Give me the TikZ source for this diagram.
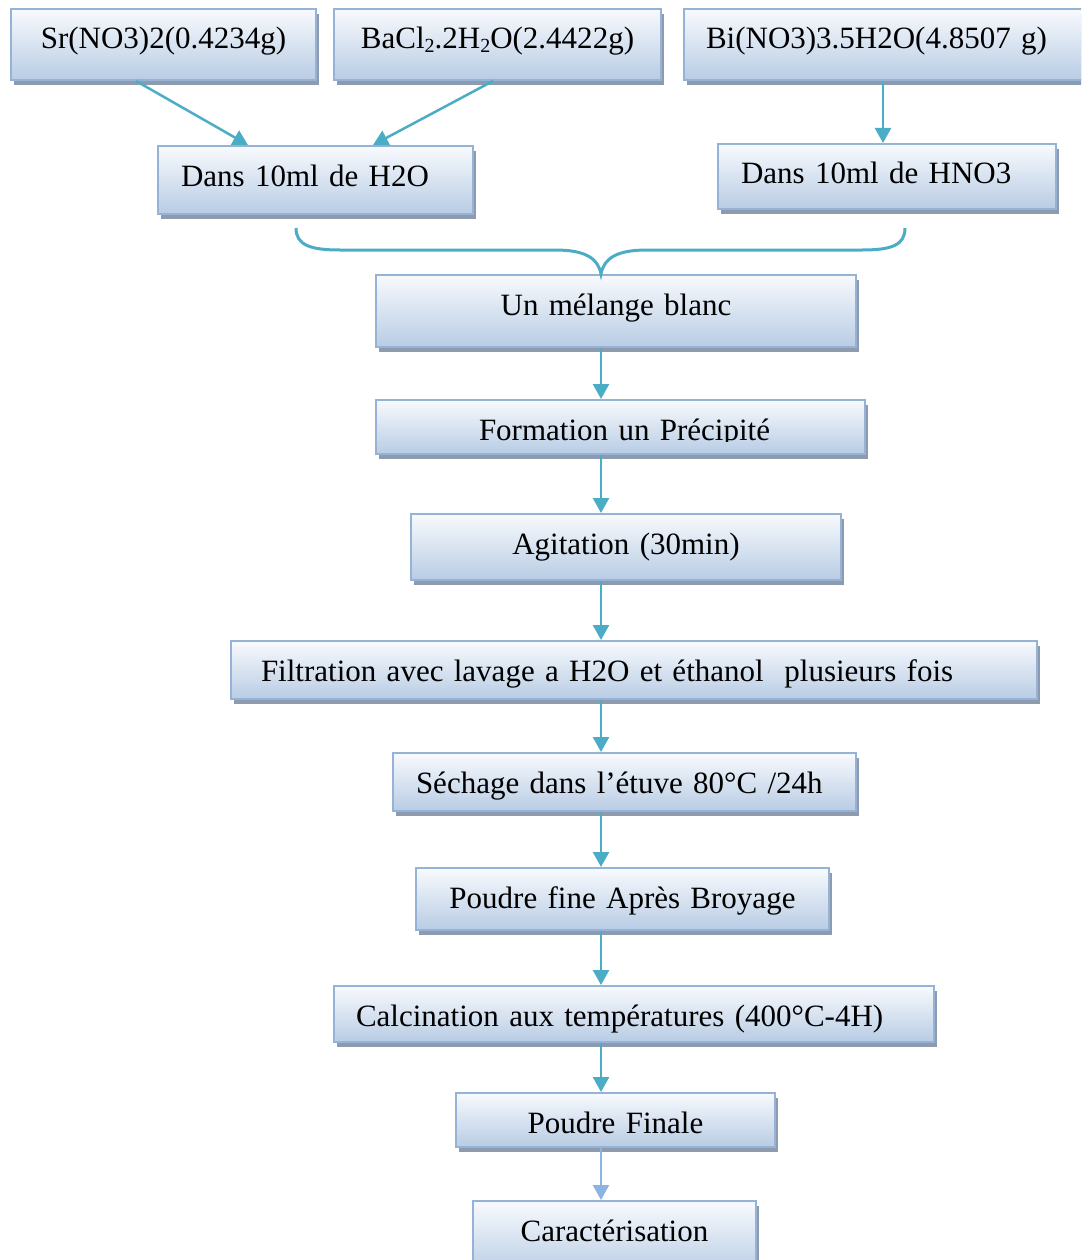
\documentclass[tikz,border=0pt]{standalone}
\usepackage{fontspec}
\setmainfont{Liberation Serif}
\usetikzlibrary{arrows.meta,shadows}

\definecolor{flowline}{HTML}{4BACC6}
\definecolor{lastline}{HTML}{8DB3E2}
\definecolor{boxedge}{HTML}{95B3D7}
\definecolor{boxtop}{HTML}{F8FAFD}
\definecolor{boxbottom}{HTML}{B8CCE4}
\definecolor{boxshadow}{HTML}{8E9BAF}

\newcommand{\stepfont}{\fontsize{31}{36}\selectfont}
\newcommand{\chemsub}[1]{\raisebox{-3.5pt}{\fontsize{20}{20}\selectfont #1}}

\begin{document}
\begin{tikzpicture}[x=1pt,y=-1pt,
  stepbox/.style={draw=boxedge, line width=2pt,
    top color=boxtop, bottom color=boxbottom,
    drop shadow={shadow xshift=3pt, shadow yshift=-5pt, fill=boxshadow, opacity=1},
    anchor=north west, inner ysep=0pt, text height=40pt, font=\stepfont},
  centred/.style={inner xsep=0pt, text width=#1, align=center},
  lefttext/.style 2 args={inner xsep=#1, text width=#2, align=left},
  flow/.style={draw=flowline, line width=2.5pt, -{Triangle[width=16pt,length=15pt]}},
  bracket/.style={draw=flowline, line width=3pt}
]
\path[use as bounding box, clip] (0,0) rectangle (1081,1260);

% reagents
\node[stepbox, centred=305pt, text depth=31pt] (sr) at (10,8) {Sr(NO3)2(0.4234g)};
\node[stepbox, centred=327pt, text depth=31pt] (bacl) at (333,8)
  {BaCl\chemsub{2}.2H\chemsub{2}O(2.4422g)};
\node[stepbox, lefttext={22pt}{376pt}, text depth=31pt] (bi) at (683,8) {\mbox{Bi(NO3)3.5H2O(4.8507 g)}};

% solvents
\node[stepbox, lefttext={23pt}{269pt}, text depth=28pt] (h2o) at (157,145) {\mbox{Dans 10ml de H2O}};
\node[stepbox, lefttext={23pt}{292pt}, text depth=25pt] (hno3) at (717,143) {\mbox{Dans 10ml de HNO3}};

% processing chain
\node[stepbox, centred=480pt, text depth=32pt] (mel) at (375,274) {Un mélange blanc};
\node[stepbox, centred=489pt, text depth=14pt,
  path picture={
    \clip ([yshift=13pt]path picture bounding box.south west) rectangle (path picture bounding box.north east);
    \node[anchor=base, inner sep=0pt, font=\stepfont] at ([xshift=4pt, yshift=-40pt]path picture bounding box.north) {Formation un Précipité};
  }] (form) at (375,399) {};
\node[stepbox, centred=430pt, text depth=26pt] (agit) at (410,513) {Agitation (30min)};
\node[stepbox, lefttext={30pt}{746pt}, text depth=18pt] (filt) at (230,640)
  {\mbox{Filtration avec lavage a H2O et éthanol\ \ plusieurs fois}};
\node[stepbox, lefttext={23pt}{417pt}, text depth=18pt] (sech) at (392,752) {\mbox{Séchage dans l’étuve 80°C /24h}};
\node[stepbox, centred=413pt, text depth=22pt] (poud) at (415,867) {Poudre fine Après Broyage};
\node[stepbox, lefttext={22pt}{556pt}, text depth=16pt] (calc) at (333,985) {\mbox{Calcination aux températures (400°C-4H)}};
\node[stepbox, centred=319pt, text depth=14pt] (fin) at (455,1092) {Poudre Finale};
\node[stepbox, centred=283pt, text depth=35pt] (car) at (472,1200) {Caractérisation};

% dissolution arrows
\draw[flow] ([xshift=-27.5pt]sr.south) -- ([xshift=-67.5pt]h2o.north);
\draw[flow] ([xshift=-4.5pt]bacl.south) -- ([xshift=57.5pt]h2o.north);
\draw[flow] ([xshift=-11pt]bi.south) -- ([xshift=-4pt]hno3.north);

% the two solutions are combined
\coordinate (axis) at (601,0);
\draw[bracket] (296,228) .. controls (296,245) and (310,250) .. (340,250)
  -- (555,250) .. controls (585,250) and (598,258) .. (mel.north -| axis)
  .. controls (604,258) and (617,250) .. (647,250)
  -- (862,250) .. controls (892,250) and (905,245) .. (905,228);

% main chain
\draw[flow] (mel.south -| axis) -- (form.north -| axis);
\draw[flow] (form.south -| axis) -- (agit.north -| axis);
\draw[flow] (agit.south -| axis) -- (filt.north -| axis);
\draw[flow] (filt.south -| axis) -- (sech.north -| axis);
\draw[flow] (sech.south -| axis) -- (poud.north -| axis);
\draw[flow] (poud.south -| axis) -- (calc.north -| axis);
\draw[flow] (calc.south -| axis) -- (fin.north -| axis);
\draw[flow, draw=lastline] (fin.south -| axis) -- (car.north -| axis);
\end{tikzpicture}
\end{document}
